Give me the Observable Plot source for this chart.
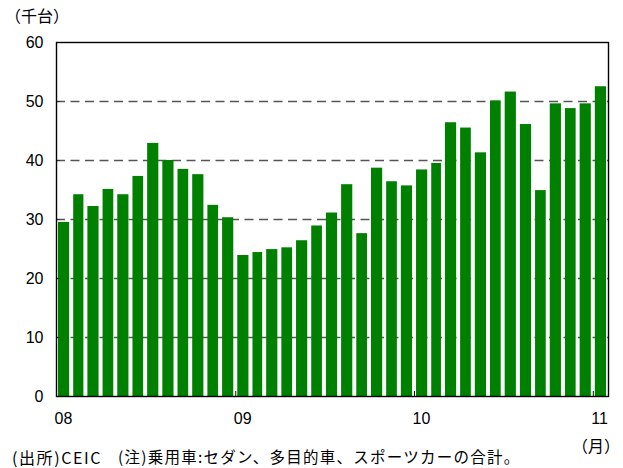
<!DOCTYPE html>
<html><head><meta charset="utf-8">
<script src="https://cdn.jsdelivr.net/npm/d3@7"></script>
<script src="https://cdn.jsdelivr.net/npm/@observablehq/plot@0.6"></script>
<style>
body{margin:0;background:#fff;}
#wrap{position:relative;width:623px;height:468px;}
#wrap svg{position:absolute;left:0;top:0;}
.t{position:absolute;font-family:"Noto Sans CJK JP",sans-serif;font-size:16px;color:#000;white-space:pre;line-height:1;}
</style></head><body>
<div id="wrap">
<div class="t" id="unit" style="left:5px;top:7px">（千台）</div>
<div class="t" id="month" style="left:572px;top:437px">（月）</div>
<div class="t" id="cap1" style="left:12px;top:449px;font-size:16px;letter-spacing:1.6px">(出所)CEIC</div>
<div class="t" id="cap2" style="left:118px;top:449px;font-size:15.5px;letter-spacing:1.25px">(注)乗用車:セダン、多目的車、スポーツカーの合計。</div>
</div>
<script>
const months = [
  "2008-01","2008-02","2008-03","2008-04","2008-05","2008-06","2008-07","2008-08","2008-09","2008-10","2008-11","2008-12",
  "2009-01","2009-02","2009-03","2009-04","2009-05","2009-06","2009-07","2009-08","2009-09","2009-10","2009-11","2009-12",
  "2010-01","2010-02","2010-03","2010-04","2010-05","2010-06","2010-07","2010-08","2010-09","2010-10","2010-11","2010-12",
  "2011-01"
];
const values = [
  29.5, 34.2, 32.2, 35.1, 34.2, 37.3, 42.9, 40.0, 38.5, 37.6, 32.4, 30.3,
  23.9, 24.4, 24.9, 25.2, 26.4, 28.9, 31.1, 35.9, 27.6, 38.7, 36.4, 35.7,
  38.4, 39.5, 46.4, 45.5, 41.3, 50.1, 51.6, 46.1, 34.9, 49.6, 48.8, 49.6,
  52.5
];
const tickMonths = ["2008-01","2009-01","2010-01","2011-01"];
const tickLabels = ["08","09","10","11"];
const yTicks = [0,10,20,30,40,50,60];
const gridTicks = [10,20,30,40,50];

const parse = d3.utcParse("%Y-%m");
const data = months.map((m, i) => ({date: parse(m), value: values[i]}));
const tickDates = tickMonths.map(parse);
const labelOf = new Map(tickDates.map((d, i) => [+d, tickLabels[i]]));

const W = 623, H = 468, mL = 56, mR = 15, mT = 42, mB = 72;
const plotW = W - mL - mR, plotH = H - mT - mB;

const chart = Plot.plot({
  width: W, height: H,
  marginLeft: mL, marginRight: mR, marginTop: mT, marginBottom: mB,
  style: {fontFamily: "Arimo, 'Liberation Sans', Arial, sans-serif", fontSize: "16px", color: "black", background: "transparent"},
  x: {type: "utc", domain: [parse("2008-01"), parse("2011-02")]},
  y: {domain: [0, 60]},
  marks: [
    Plot.gridY(gridTicks, {stroke: "#555", strokeOpacity: 1, strokeWidth: 1.3, strokeDasharray: "9,5.5"}),
    Plot.rectY(data, {x: "date", y: "value", interval: "month", fill: "#008000", insetLeft: 2, insetRight: 2}),
    Plot.tickY(gridTicks, {y: d => d, insetRight: plotW - 4, stroke: "#333"}),
    Plot.tickX(tickDates.slice(1), {x: d => d, insetTop: plotH - 5, stroke: "#111"}),
    Plot.axisY(yTicks, {tickSize: 0, tickPadding: 13, fontSize: 16, label: null}),
    Plot.axisX(tickDates, {tickSize: 0, tickPadding: 16, fontSize: 16, textAnchor: "start", dx: -2, tickFormat: d => labelOf.get(+d), label: null}),
    Plot.frame({stroke: "black", strokeWidth: 1.4})
  ]
});
document.getElementById("wrap").prepend(chart);
</script>
</body></html>
